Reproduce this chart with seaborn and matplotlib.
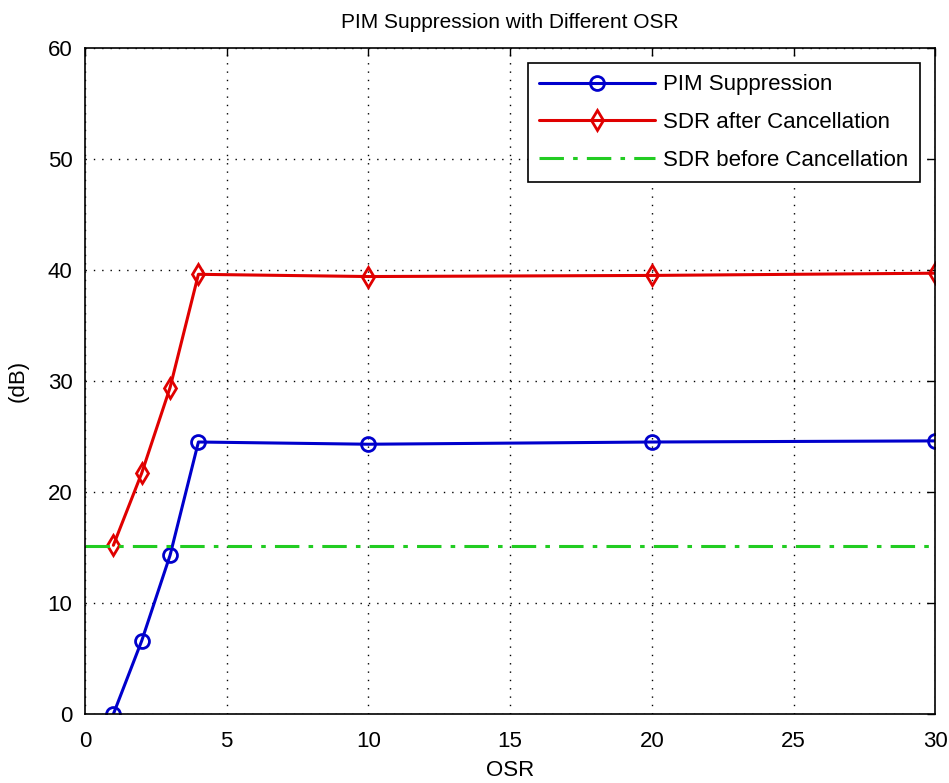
import numpy as np
import pandas as pd
import matplotlib
matplotlib.use("Agg")
import matplotlib.pyplot as plt
import seaborn as sns

# Data
osr = [1, 2, 3, 4, 10, 20, 30]
pim_suppression = [0.0, 6.6, 14.3, 24.5, 24.3, 24.5, 24.6]
sdr_after = [15.2, 21.7, 29.4, 39.6, 39.4, 39.5, 39.7]
sdr_before = 15.1

sns.set_style("white")
plt.rcParams['font.family'] = ['Liberation Sans', 'DejaVu Sans']
plt.rcParams['text.color'] = "black"
plt.rcParams['axes.labelcolor'] = "black"

df = pd.DataFrame({"OSR": osr, "PIM": pim_suppression, "SDR": sdr_after})

fig = plt.figure(figsize=(9.49, 7.83), dpi=100)
ax = fig.add_axes([0.0896, 0.088, 0.896, 0.851])

sns.lineplot(data=df, x="OSR", y="PIM", ax=ax, color="#0000cc", lw=2.2,
             marker="o", markersize=10, markerfacecolor="none",
             markeredgecolor="#0000cc", markeredgewidth=2, label="PIM Suppression")
sns.lineplot(data=df, x="OSR", y="SDR", ax=ax, color="#e00000", lw=2.2,
             marker="d", markersize=10, markerfacecolor="none",
             markeredgecolor="#e00000", markeredgewidth=2, label="SDR after Cancellation")
ax.axhline(sdr_before, color="#22cc22", lw=2.2, ls=(0, (8, 3, 1.5, 3)),
           label="SDR before Cancellation")

ax.set_xlim(0, 30)
ax.set_ylim(0, 60)
ax.set_xticks(np.arange(0, 31, 5))
ax.set_yticks(np.arange(0, 61, 10))
ax.grid(True, color="black", ls=(0, (1, 5)), lw=1)
for s in ax.spines.values():
    s.set_color("black")
    s.set_linewidth(1.2)
ax.tick_params(direction="in", length=6, width=1, labelsize=16, colors="black",
               top=True, right=True)
ax.tick_params(axis="x", pad=12)
ax.tick_params(axis="y", pad=9)

ax.set_title("PIM Suppression with Different OSR", fontsize=15, pad=14)
ax.set_xlabel("OSR", fontsize=16, labelpad=6)
ax.set_ylabel("(dB)", fontsize=16, labelpad=14)

leg = ax.legend(loc="upper right", fontsize=16, fancybox=False, framealpha=1,
                edgecolor="black", handlelength=5.2, borderaxespad=0.7,
                labelspacing=0.75, handletextpad=0.4, borderpad=0.5)
leg.get_frame().set_linewidth(1.2)

fig.savefig("out.png", dpi=100)
